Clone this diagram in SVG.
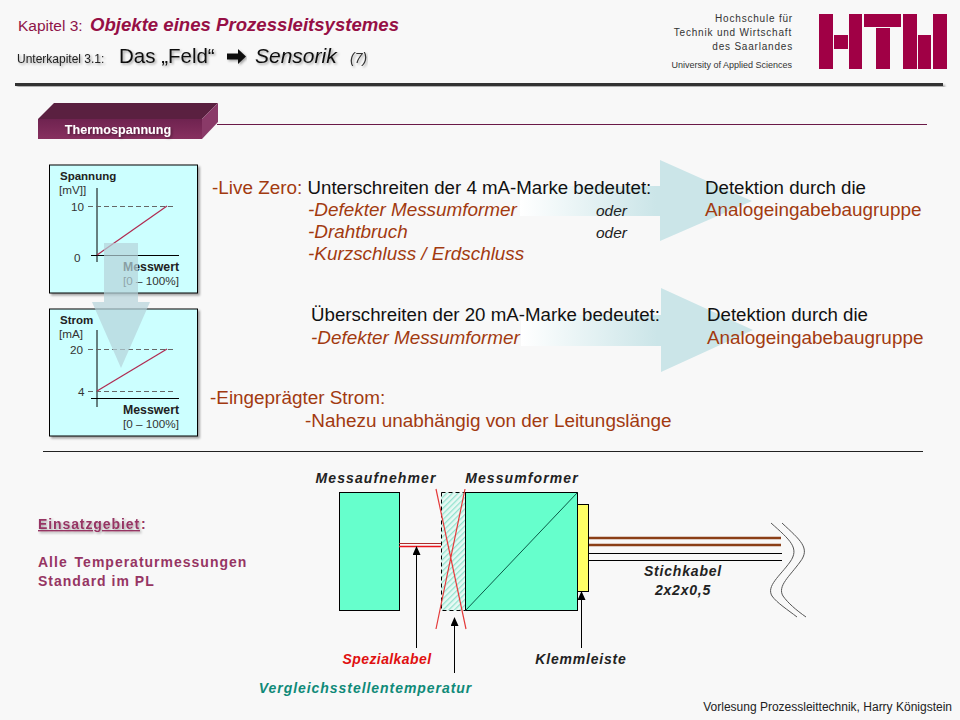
<svg xmlns="http://www.w3.org/2000/svg" width="960" height="720" viewBox="0 0 960 720">
<style>
text{font-family:"Liberation Sans",Arial,sans-serif}
.b{font-weight:700}.i{font-style:italic}
.bi{font-weight:700;font-style:italic}
.ch{font-size:11.700px;fill:#333}
.chb{font-size:11.500px;fill:#222;font-weight:700}
.t{font-size:18.700px;fill:#111}
.r{font-size:18.900px;fill:#a23a10}
.ri{font-size:18.900px;fill:#a23a10;font-style:italic}
.o{font-size:15.500px;fill:#222;font-style:italic}
.h{font-size:10px;fill:#333;letter-spacing:.8px}
.l{font-size:14px;font-weight:700;font-style:italic;fill:#222;letter-spacing:.8px}
.m{font-size:14px;font-weight:700;fill:#963563;letter-spacing:1px}
.ln{stroke:#000;fill:none}
.brown{stroke:#8b3f17;stroke-width:2.500}
</style>
<defs>
<linearGradient id="ga" gradientUnits="userSpaceOnUse" x1="520" y1="0" x2="680" y2="0"><stop offset="0" stop-color="#fff"/><stop offset=".85" stop-color="#cbe5e8"/></linearGradient>
<linearGradient id="gb" gradientUnits="userSpaceOnUse" x1="521" y1="0" x2="681" y2="0"><stop offset="0" stop-color="#fff"/><stop offset=".85" stop-color="#cbe5e8"/></linearGradient>
<linearGradient id="tab" x1="0" y1="0" x2="0" y2="1"><stop offset="0" stop-color="#6f2350"/><stop offset="1" stop-color="#87305f"/></linearGradient>
<pattern id="hatch" width="4" height="4" patternUnits="userSpaceOnUse" patternTransform="rotate(-45)"><rect width="4" height="4" fill="#e8f9f4"/><rect width="4" height="1.300" fill="#94e3cf"/></pattern>
<filter id="sh" x="-10%" y="-10%" width="120%" height="120%"><feDropShadow dx="2" dy="2" stdDeviation="1.200" flood-color="#000" flood-opacity=".35"/></filter>
<filter id="ts" x="-5%" y="-20%" width="110%" height="150%"><feDropShadow dx="1.500" dy="1.500" stdDeviation="1" flood-color="#000" flood-opacity=".35"/></filter>
<marker id="ah" markerWidth="9" markerHeight="8" refX="8" refY="4" orient="auto" markerUnits="userSpaceOnUse" viewBox="0 0 9 8"><path d="M0 0L9 4L0 8Z" fill="#000"/></marker>
</defs>
<rect width="960" height="720" fill="#f8f8f8"/>

<g id="header">
<text x="18" y="31" font-size="15.500" fill="#8e1448">Kapitel 3:</text>
<text x="90" y="31" font-size="18.600" class="bi" fill="#960f45">Objekte eines Prozessleitsystemes</text>
<text x="17" y="63" font-size="12" fill="#222" filter="url(#ts)">Unterkapitel  3.1:</text>
<text x="119" y="63" font-size="20.500" fill="#111" filter="url(#ts)">Das „Feld“</text>
<path d="M227 53.500H238V49L246 56.500L238 64V59.500H227Z" fill="#111" filter="url(#ts)"/>
<text x="255" y="63" font-size="21" class="i" fill="#111" filter="url(#ts)">Sensorik</text>
<text x="350" y="63" font-size="14" class="i" fill="#333" filter="url(#ts)">(7)</text>
<rect x="15" y="83" width="928" height="3" fill="#333" filter="url(#sh)"/>
</g>

<g id="logo">
<text x="793" y="22" class="h" text-anchor="end">Hochschule für</text>
<text x="792" y="36" class="h" text-anchor="end">Technik und Wirtschaft</text>
<text x="793" y="50" class="h" text-anchor="end">des Saarlandes</text>
<text x="792" y="68" font-size="9" fill="#333" text-anchor="end">University of Applied Sciences</text>
<g fill="#a00045">
<rect x="819" y="14" width="14" height="55"/><rect x="834" y="35" width="14" height="14"/><rect x="849" y="14" width="13" height="55"/>
<rect x="864" y="14" width="37" height="13"/><rect x="876" y="28" width="14" height="41"/>
<rect x="903" y="14" width="14" height="55"/><rect x="918" y="35" width="13" height="34"/><rect x="933" y="14" width="14" height="55"/>
</g>
</g>

<g id="section-tab">
<path d="M217 124.500H927" stroke="#6b1a48" stroke-width="1.200"/>
<path d="M38 119L54 103H218L202 119Z" fill="#5a2040"/>
<path d="M202 119L218 103V122L202 139Z" fill="#8a3a68"/>
<rect x="38" y="119" width="164" height="20" fill="url(#tab)"/>
<text x="118" y="134" font-size="12.600" class="b" fill="#fff" text-anchor="middle" filter="url(#ts)">Thermospannung</text>
</g>

<g id="chart-spannung">
<rect x="49.500" y="165" width="148" height="128" fill="#ccffff" stroke="#000" filter="url(#sh)"/>
<text x="60" y="180" class="chb">Spannung</text>
<text x="59" y="194" class="ch">[mV]]</text>
<text x="71" y="211" class="ch">10</text>
<text x="74" y="262" class="ch">0</text>
<path d="M97 188V262M91 255.500H179" class="ln"/>
<path d="M88 206.500H176" stroke="#666" stroke-dasharray="5 3" fill="none"/>
<path d="M97 255L167 206" stroke="#b02a50" fill="none" stroke-width="1.200"/>
<text x="123" y="271" class="chb" style="font-size:12.300px">Messwert</text>
<text x="123" y="285" class="ch">[0 – 100%]</text>
</g>

<g id="chart-strom">
<rect x="49.500" y="309" width="148" height="127" fill="#ccffff" stroke="#000" filter="url(#sh)"/>
<text x="60" y="324" class="chb">Strom</text>
<text x="59" y="338" class="ch">[mA]</text>
<text x="70" y="354" class="ch">20</text>
<text x="78" y="396" class="ch">4</text>
<path d="M97 330V407M91 398.500H179" class="ln"/>
<path d="M88 349.500H176M88 391.500H176" stroke="#666" stroke-dasharray="5 3" fill="none"/>
<path d="M97 391L167 349" stroke="#b02a50" fill="none" stroke-width="1.200"/>
<text x="123" y="414" class="chb" style="font-size:12.300px">Messwert</text>
<text x="123" y="428" class="ch">[0 – 100%]</text>
</g>

<g id="big-arrows">
<path d="M520 186H660V160L752 201L660 241V216H520Z" fill="url(#ga)"/>
<path d="M521 315H661V288L753 330L661 372V346H521Z" fill="url(#gb)"/>
</g>

<g id="text-block">
<text x="212" y="194"><tspan class="r">-Live Zero:</tspan><tspan class="t"> Unterschreiten der 4 mA-Marke bedeutet:</tspan></text>
<text x="308" y="216" class="ri">-Defekter Messumformer</text>
<text x="596" y="216" class="o">oder</text>
<text x="308" y="238" class="ri">-Drahtbruch</text>
<text x="596" y="238" class="o">oder</text>
<text x="308" y="260" class="ri">-Kurzschluss / Erdschluss</text>
<text x="705" y="194" class="t">Detektion durch die</text>
<text x="705" y="216" class="r">Analogeingabebaugruppe</text>
<text x="311" y="321" class="t">Überschreiten der 20 mA-Marke bedeutet:</text>
<text x="311" y="344" class="ri">-Defekter Messumformer</text>
<text x="707" y="321" class="t">Detektion durch die</text>
<text x="707" y="344" class="r">Analogeingabebaugruppe</text>
<text x="210" y="404" class="r">-Eingeprägter Strom:</text>
<text x="305" y="427" class="r">-Nahezu unabhängig von der Leitungslänge</text>
</g>

<path id="down-arrow" d="M104 243H138V302H150L121 368L92 302H104Z" fill="#b5d3da" opacity=".7"/>

<path d="M43 451.500H923" stroke="#222" stroke-width="1"/>

<g id="einsatz">
<text x="38" y="529" class="m" text-decoration="underline" filter="url(#ts)" style="letter-spacing:.9px">Einsatzgebiet</text>
<text x="141" y="529" class="m">:</text>
<text x="38" y="567" class="m">Alle <tspan dx="2">Temperaturmessungen</tspan></text>
<text x="38" y="586" class="m">Standard im PL</text>
</g>

<g id="messaufnehmer">
<rect x="339.500" y="492.500" width="60" height="118" fill="#66ffcc" stroke="#000"/>
<text x="376" y="483" class="l" text-anchor="middle" style="letter-spacing:1.100px">Messaufnehmer</text>
</g>
<g id="vergleichsstelle">
<rect x="441.500" y="492.500" width="24" height="118" fill="url(#hatch)" stroke="#000" stroke-dasharray="4 3"/>
</g>
<g id="messumformer">
<rect x="465.500" y="492.500" width="112" height="118" fill="#66ffcc" stroke="#000"/>
<path d="M465.500 610.500L577.500 492.500" stroke="#0a5a48" fill="none"/>
<text x="522" y="483" class="l" text-anchor="middle" style="letter-spacing:1.100px">Messumformer</text>
</g>
<g id="klemmleiste">
<rect x="577.500" y="504.500" width="11" height="87" fill="#ffff66" stroke="#000"/>
</g>

<g id="connectors">
<path d="M399 543.500H441" stroke="#b02a2a" stroke-width="1.200" fill="none"/>
<path d="M399 546.500H441" stroke="#e8141c" stroke-width="1.300" fill="none"/>
<path d="M436 489L466 629M465 489L436 629" stroke="#e43a3a" stroke-width="1.200" fill="none"/>
<path d="M589 538H781M589 545H781" class="brown"/>
<path d="M589 553.500H782M589 560.500H782" class="ln"/>
<path d="M771 523C790 540 800 548 790 562C780 576 766 586 772 596C777 603 788 610 797 617M782 523C800 540 811 548 800 562C790 576 777 586 783 596C788 603 796 610 806 617" stroke="#555" fill="none"/>
<path d="M416.500 648V547" class="ln" marker-end="url(#ah)"/>
<path d="M454.500 673V618" class="ln" marker-end="url(#ah)"/>
<path d="M581.500 648V592" class="ln" marker-end="url(#ah)"/>
</g>

<g id="labels">
<text x="683" y="576" class="l" text-anchor="middle">Stichkabel</text>
<text x="683" y="595" class="l" text-anchor="middle">2x2x0,5</text>
<text x="387" y="664" class="l" text-anchor="middle" style="fill:#e01010;letter-spacing:.4px">Spezialkabel</text>
<text x="581" y="664" class="l" text-anchor="middle">Klemmleiste</text>
<text x="365.500" y="693" class="l" text-anchor="middle" style="fill:#0f8a78;letter-spacing:.95px">Vergleichsstellentemperatur</text>
<text x="952" y="711" font-size="12" fill="#222" text-anchor="end">Vorlesung Prozessleittechnik, Harry Königstein</text>
</g>
</svg>
